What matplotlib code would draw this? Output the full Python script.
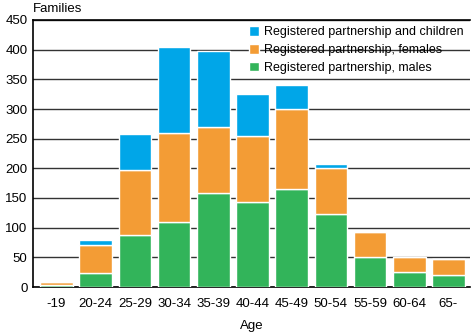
import matplotlib
matplotlib.use("Agg")
import matplotlib.pyplot as plt
import numpy as np

plt.rcParams['font.family'] = ['Liberation Sans', 'DejaVu Sans']

ages = ["-19", "20-24", "25-29", "30-34", "35-39", "40-44", "45-49",
        "50-54", "55-59", "60-64", "65-"]
males = [4, 24, 87, 110, 158, 144, 165, 123, 51, 26, 21]
females = [5, 46, 110, 150, 112, 110, 135, 78, 41, 25, 27]
children = [0, 10, 61, 144, 128, 71, 40, 7, 0, 0, 0]

c_blue = "#00A6E8"
c_orange = "#F39C35"
c_green = "#32B45A"

fig = plt.figure(figsize=(4.72, 3.32), dpi=100)
ax = fig.add_axes([33 / 472, 1 - 287 / 332, 437 / 472, 267 / 332])

x = np.arange(len(ages))
w = 0.83
males_a = np.array(males)
females_a = np.array(females)
children_a = np.array(children)
ax.bar(x, males_a, w, color=c_green, edgecolor="white", linewidth=1,
       label="Registered partnership, males", zorder=3)
ax.bar(x, females_a, w, bottom=males_a, color=c_orange, edgecolor="white",
       linewidth=1, label="Registered partnership, females", zorder=3)
ax.bar(x, children_a, w, bottom=males_a + females_a, color=c_blue,
       edgecolor="white", linewidth=1,
       label="Registered partnership and children", zorder=3)

ax.set_xlim(-0.6, len(ages) - 0.45)
ax.set_ylim(0, 450)
ax.set_yticks(range(0, 451, 50))
ax.set_xticks(x)
ax.set_xticklabels(ages)
ax.tick_params(axis="both", length=0, labelsize=9.5, colors="black")
ax.tick_params(axis="x", pad=8)
ax.tick_params(axis="y", pad=4)
ax.yaxis.grid(True, color="#333333", linewidth=1, zorder=0)
ax.set_axisbelow(True)
for s in ["top", "right"]:
    ax.spines[s].set_visible(False)
ax.spines["left"].set_linewidth(1.2)
ax.spines["bottom"].set_linewidth(1.2)
ax.axhline(450, color="black", linewidth=1.2, zorder=1, clip_on=False)

ax.set_xlabel("Age", fontsize=9.5, labelpad=7)
fig.text(33 / 472, 1 - 9 / 332, "Families", fontsize=9.5, va="center", ha="left")

handles, labels = ax.get_legend_handles_labels()
leg = ax.legend(handles[::-1], labels[::-1], loc="upper right",
                bbox_to_anchor=(1.0, 1.0), frameon=False, fontsize=9,
                handlelength=0.8, handleheight=0.8, handletextpad=0.4,
                labelspacing=0.45, borderaxespad=0.1)

fig.savefig("out.png", dpi=100)
